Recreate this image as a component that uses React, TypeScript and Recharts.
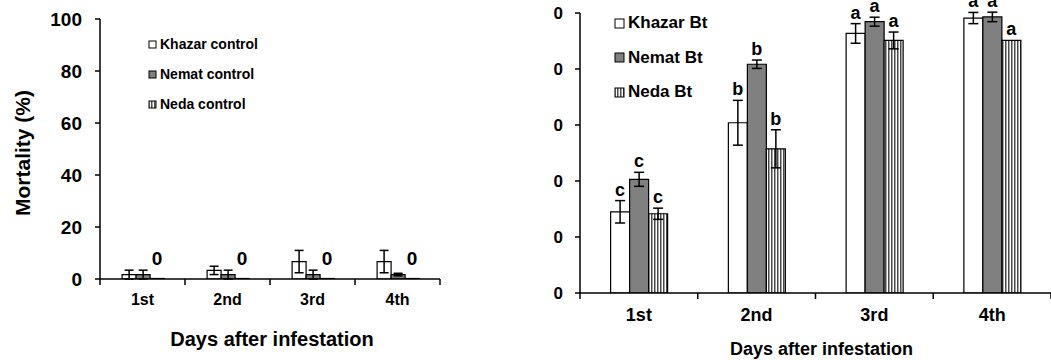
import React from 'react';
import { BarChart, Bar, XAxis, YAxis, ErrorBar, LabelList, Legend, Label } from 'recharts';

const days = ['1st', '2nd', '3rd', '4th'];
const pctTicks = [0, 20, 40, 60, 80, 100];

// controls
const khazarControl = [1.7, 3.3, 6.7, 6.7];
const khazarControlErr = [1.7, 1.6, 4.3, 4.3];
const nematControl = [1.7, 1.7, 1.7, 1.7];
const nematControlErr = [1.7, 1.7, 1.7, 0.5];
const nedaControl = [0, 0, 0, 0];
const controlNames = ['Khazar control', 'Nemat control', 'Neda control'];

// Bt treatments
const khazarBt = [29, 60.8, 92.7, 98.2];
const khazarBtErr = [4, 8, 3.5, 2];
const nematBt = [40.6, 81.7, 96.9, 98.6];
const nematBtErr = [2.5, 1.5, 1.6, 1.7];
const nedaBt = [28.3, 51.5, 90.2, 90.2];
const nedaBtErr = [2, 6.8, 3, 0];
const khazarLetters = ['c', 'b', 'a', 'a'];
const nematLetters = ['c', 'b', 'a', 'a'];
const nedaLetters = ['c', 'b', 'a', 'a'];
const btNames = ['Khazar Bt', 'Nemat Bt', 'Neda Bt'];

const controlData = days.map((day, i) => ({
  day,
  khazar: khazarControl[i], khazarErr: khazarControlErr[i],
  nemat: nematControl[i], nematErr: nematControlErr[i],
  neda: nedaControl[i],
}));

const btData = days.map((day, i) => ({
  day,
  khazar: khazarBt[i], khazarErr: khazarBtErr[i],
  nemat: nematBt[i], nematErr: nematBtErr[i],
  neda: nedaBt[i], nedaErr: nedaBtErr[i],
}));

const FONT = "'Liberation Sans', Arial, sans-serif";
const GRAY = '#808080';
const AX = { stroke: '#000', strokeWidth: 1.5 };
const TICK_SIZE = 6;
const TICK_MARGIN = 9;

function Stripes({ id }: { id: string }) {
  return (
    <defs>
      <pattern id={id} width="3" height="4" patternUnits="userSpaceOnUse">
        <rect width="3" height="4" fill="#fff" />
        <rect width="1.5" height="4" fill="#4a4a4a" />
      </pattern>
    </defs>
  );
}

// category label + tick marks on the band edges (Excel style)
function edgeTick(fontSize: number, plotWidth: number) {
  return (props: any) => {
    const { x, y, payload, index } = props;
    const band = (Number(props.width) || plotWidth) / days.length;
    const axisY = y - TICK_SIZE - TICK_MARGIN;
    const left = x - band / 2;
    const right = x + band / 2;
    return (
      <g>
        <line x1={left} y1={axisY} x2={left} y2={axisY + TICK_SIZE} stroke="#000" strokeWidth={1.5} />
        {index === days.length - 1 && (
          <line x1={right} y1={axisY} x2={right} y2={axisY + TICK_SIZE} stroke="#000" strokeWidth={1.5} />
        )}
        <text x={x} y={y} dy="0.71em" textAnchor="middle" fontFamily={FONT} fontWeight={700}
          fontSize={fontSize} fill="#000">{payload.value}</text>
      </g>
    );
  };
}

function legendContent(size: number, box: number, gap: number) {
  return ({ payload }: any) => (
    <div style={{ fontFamily: FONT, fontWeight: 700, fontSize: size, color: '#000' }}>
      {(payload || []).map((e: any, i: number) => (
        <div key={i} style={{ display: 'flex', alignItems: 'center', height: gap, whiteSpace: 'nowrap' }}>
          <svg width={box + 3} height={box + 2} style={{ marginRight: 2 }}>
            <rect x={1} y={1} width={box} height={box} fill={e.color} stroke="#000" strokeWidth={1} />
          </svg>
          {e.value}
        </div>
      ))}
    </div>
  );
}

function letterLabel(letters: string[], errs: number[]) {
  return (props: any) => {
    const vb = props.viewBox || props;
    const { x, y, width, height } = vb;
    const v = Number(props.value);
    const i = props.index;
    const errPx = v > 0 ? (errs[i] * height) / v : 0;
    return (
      <text x={x + width / 2} y={y - errPx - 5} textAnchor="middle"
        fontFamily={FONT} fontWeight={700} fontSize={18} fill="#000">
        {letters[i]}
      </text>
    );
  };
}

function zeroLabel(props: any) {
  const vb = props.viewBox || props;
  return (
    <text x={vb.x + vb.width / 2} y={vb.y + vb.height - 14.5} textAnchor="middle"
      fontFamily={FONT} fontWeight={700} fontSize={19} fill="#000">
      {String(props.value)}
    </text>
  );
}

function ControlChart() {
  return (
    <BarChart width={460} height={360} data={controlData}
      margin={{ top: 19, right: 20, bottom: 0, left: 0 }} barGap={0} barCategoryGap="26%">
      <Stripes id="stripesCtl" />
      <XAxis dataKey="day" axisLine={AX} tickLine={false} height={81}
        tickSize={TICK_SIZE} tickMargin={TICK_MARGIN} interval={0} tick={edgeTick(16, 340)}>
        <Label content={(p: any) => (
          <text x={p.viewBox.x + p.viewBox.width / 2 + 2} y={p.viewBox.y + 67} textAnchor="middle"
            fontFamily={FONT} fontWeight={700} fontSize={20} fill="#000">Days after infestation</text>
        )} />
      </XAxis>
      <YAxis domain={[0, 100]} ticks={pctTicks} width={100} axisLine={AX} tickLine={AX}
        tickSize={5} tickMargin={13} allowDataOverflow
        tick={{ fontFamily: FONT, fontWeight: 700, fontSize: 19, fill: '#000' }}>
        <Label content={(p: any) => {
          const cx = p.viewBox.x + 22;
          const cy = p.viewBox.y + p.viewBox.height / 2 + 4;
          return (
            <text x={cx} y={cy} transform={`rotate(-90 ${cx} ${cy})`} textAnchor="middle"
              dominantBaseline="central" fontFamily={FONT} fontWeight={700} fontSize={21} fill="#000">
              Mortality (%)
            </text>
          );
        }} />
      </YAxis>
      <Legend layout="vertical" align="center" verticalAlign="middle"
        itemSorter={(item: any) => controlNames.indexOf(item.value)}
        wrapperStyle={{ left: 148, top: 29, width: 'auto', height: 'auto' }}
        content={legendContent(14, 7, 30)} />
      <Bar dataKey="khazar" name="Khazar control" fill="#fff" stroke="#000" strokeWidth={1.2} isAnimationActive={false}>
        <ErrorBar dataKey="khazarErr" width={4.5} stroke="#000" strokeWidth={1.5} isAnimationActive={false} />
      </Bar>
      <Bar dataKey="nemat" name="Nemat control" fill={GRAY} stroke="#000" strokeWidth={1.2} isAnimationActive={false}>
        <ErrorBar dataKey="nematErr" width={4.5} stroke="#000" strokeWidth={1.5} isAnimationActive={false} />
      </Bar>
      <Bar dataKey="neda" name="Neda control" fill="url(#stripesCtl)" stroke="#000" strokeWidth={1.2}
        minPointSize={0.5} isAnimationActive={false}>
        <LabelList dataKey="neda" content={zeroLabel} />
      </Bar>
    </BarChart>
  );
}

function BtChart() {
  return (
    <BarChart width={571} height={360} data={btData}
      margin={{ top: 13, right: 0, bottom: 0, left: 0 }} barGap={0} barCategoryGap="26%">
      <Stripes id="stripesBt" />
      <XAxis dataKey="day" axisLine={AX} tickLine={false} height={67}
        tickSize={TICK_SIZE} tickMargin={TICK_MARGIN} interval={0} tick={edgeTick(18, 471)}>
        <Label content={(p: any) => (
          <text x={p.viewBox.x + p.viewBox.width / 2 + 6} y={p.viewBox.y + 62} textAnchor="middle"
            fontFamily={FONT} fontWeight={700} fontSize={18} fill="#000">Days after infestation</text>
        )} />
      </XAxis>
      <YAxis domain={[0, 100]} ticks={pctTicks} width={100} axisLine={AX} tickLine={AX}
        tickSize={5} tickMargin={12} allowDataOverflow
        tickFormatter={(v: number) => String(v).slice(-1)}
        tick={{ fontFamily: FONT, fontWeight: 700, fontSize: 17, fill: '#000' }} />
      <Legend layout="vertical" align="center" verticalAlign="middle"
        itemSorter={(item: any) => btNames.indexOf(item.value)}
        wrapperStyle={{ left: 134, top: 6, width: 'auto', height: 'auto' }}
        content={legendContent(17, 9, 34.5)} />
      <Bar dataKey="khazar" name="Khazar Bt" fill="#fff" stroke="#000" strokeWidth={1.2} isAnimationActive={false}>
        <ErrorBar dataKey="khazarErr" width={5} stroke="#000" strokeWidth={1.5} isAnimationActive={false} />
        <LabelList dataKey="khazar" content={letterLabel(khazarLetters, khazarBtErr)} />
      </Bar>
      <Bar dataKey="nemat" name="Nemat Bt" fill={GRAY} stroke="#000" strokeWidth={1.2} isAnimationActive={false}>
        <ErrorBar dataKey="nematErr" width={5} stroke="#000" strokeWidth={1.5} isAnimationActive={false} />
        <LabelList dataKey="nemat" content={letterLabel(nematLetters, nematBtErr)} />
      </Bar>
      <Bar dataKey="neda" name="Neda Bt" fill="url(#stripesBt)" stroke="#000" strokeWidth={1.2} isAnimationActive={false}>
        <ErrorBar dataKey="nedaErr" width={5} stroke="#000" strokeWidth={1.5} isAnimationActive={false} />
        <LabelList dataKey="neda" content={letterLabel(nedaLetters, nedaBtErr)} />
      </Bar>
    </BarChart>
  );
}

export default function App() {
  return (
    <div style={{ position: 'absolute', left: 0, top: 0, width: 1051, height: 360, background: '#fff', overflow: 'hidden' }}>
      <div style={{ position: 'absolute', left: 0, top: 0 }}>
        <ControlChart />
      </div>
      <div style={{ position: 'absolute', left: 480, top: 0 }}>
        <BtChart />
      </div>
    </div>
  );
}
